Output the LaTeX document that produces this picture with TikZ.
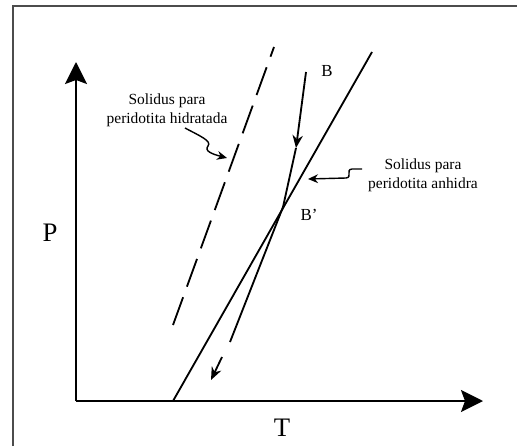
\documentclass[tikz,border=0pt]{standalone}
\usepackage{fontspec}
\setmainfont{Liberation Serif}
\usetikzlibrary{positioning, arrows.meta}

\begin{document}
\begin{tikzpicture}[x=0.025cm, y=-0.025cm,
    axis/.style={line width=1.4pt, -{Stealth[length=5.5mm, width=5.5mm, inset=1mm]}},
    curve/.style={line width=1.3pt},
    lbl/.style={font=\fontsize{11}{13.5}\selectfont, align=center, inner sep=0pt},
    squig/.style={line width=1pt, -{Stealth[length=2.5mm, width=2.2mm]}}]
    \useasboundingbox (0,0) rectangle (517,446);

    % Frame
    \draw[line width=2pt, black!70] (13,446) -- (13,6) -- (517,6);

    % Axes
    \coordinate (origin) at (76,401);
    \coordinate (ytip) at (76,62);
    \coordinate (xtip) at (483,401);
    \draw[axis] (origin) -- (ytip);
    \draw[axis] (origin) -- (xtip);
    \node[font=\fontsize{19}{19}\selectfont] (P) at (50,233) {P};
    \node[font=\fontsize{19}{19}\selectfont] (T) at (282,428) {T};

    % Solidus lines
    \coordinate (anhA) at (173,401);
    \coordinate (anhB) at (372,52);
    \draw[curve] (anhA) -- (anhB);
    \coordinate (hidA) at (173,325);
    \coordinate (hidB) at (274,47);
    \draw[curve, dash pattern=on 21pt off 8pt] (hidA) -- (hidB);

    % Path B -> B'
    \coordinate (B) at (306,72);
    \coordinate (Bmid) at (296,148);
    \coordinate (Bp) at (283,207);
    \coordinate (Blow) at (230,342);
    \coordinate (Bgap) at (222,357);
    \coordinate (Bend) at (211,380);
    \draw[curve, -{Stealth[length=3.2mm, width=2.6mm]}] (B) -- (Bmid);
    \draw[curve] (Bmid) -- (Bp) -- (Blow);
    \draw[curve, -{Stealth[length=3.2mm, width=2.6mm]}] (Bgap) -- (Bend);
    \node[font=\fontsize{12}{12}\selectfont] (labB) at (327,71) {B};
    \node[font=\fontsize{12}{12}\selectfont] (labBp) at (309,215) {B'};

    % Solidus labels
    \node[lbl] (hidlbl) at (167,110) {Solidus para\\peridotita hidratada};
    \node[lbl] (anhlbl) at (423,175) {Solidus para\\peridotita anhidra};
    \draw[squig] (185,128) .. controls (200,136) and (212,141) .. (208,146)
        .. controls (204,151) and (212,154) .. (227,158);
    \draw[squig] (362,169) -- (352,169) .. controls (345,170) and (353,177) .. (346,178) -- (308,179);
\end{tikzpicture}
\end{document}
